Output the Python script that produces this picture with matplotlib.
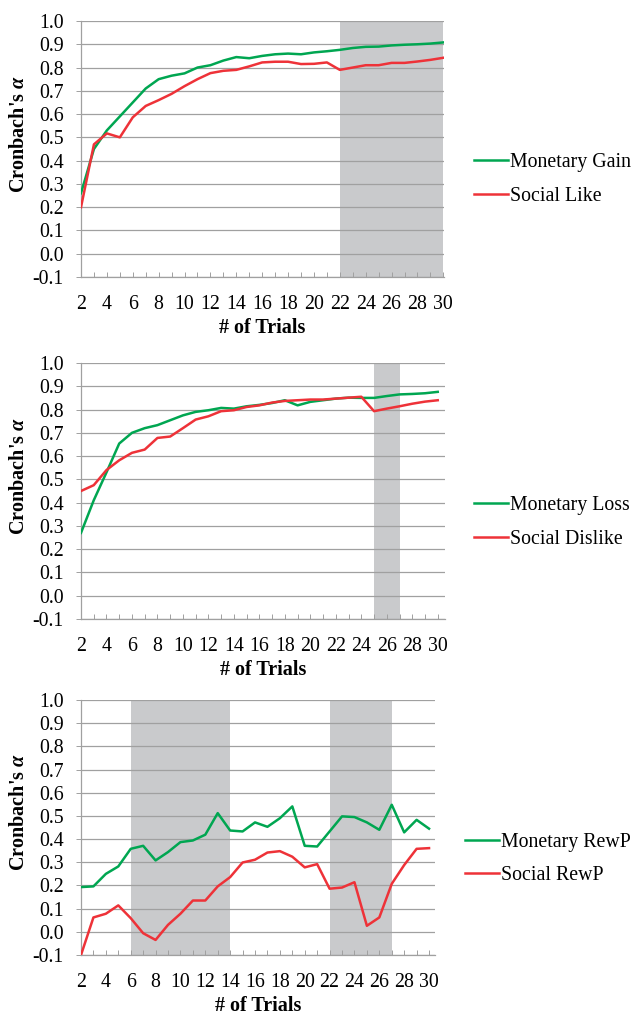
import matplotlib
matplotlib.use("Agg")
import matplotlib.pyplot as plt

plt.rcParams['font.family'] = ['Liberation Serif', 'DejaVu Serif']
plt.rcParams['mathtext.fontset'] = 'custom'
plt.rcParams['mathtext.rm'] = 'Liberation Serif:bold'
plt.rcParams['mathtext.it'] = 'Liberation Serif:italic:bold'
plt.rcParams['mathtext.bf'] = 'Liberation Serif:bold'
plt.rcParams['axes.unicode_minus'] = False

# number of trials on the x axis
trials = list(range(2, 31))

# panel 1: reward (gain / like)
monetary_gain = [0.26, 0.45, 0.53, 0.59, 0.65, 0.71, 0.75, 0.765, 0.775, 0.80,
                 0.81, 0.83, 0.845, 0.84, 0.85, 0.857, 0.86, 0.857, 0.865, 0.87,
                 0.876, 0.884, 0.889, 0.89, 0.895, 0.898, 0.90, 0.903, 0.908]
social_like = [0.20, 0.47, 0.517, 0.50, 0.586, 0.635, 0.66, 0.687, 0.72, 0.75,
               0.776, 0.786, 0.79, 0.805, 0.822, 0.825, 0.825, 0.815, 0.816, 0.822,
               0.79, 0.80, 0.81, 0.81, 0.82, 0.82, 0.826, 0.833, 0.842]

# panel 2: punishment (loss / dislike)
monetary_loss = [0.27, 0.41, 0.53, 0.654, 0.70, 0.72, 0.733, 0.754, 0.775, 0.79,
                 0.797, 0.807, 0.804, 0.814, 0.82, 0.828, 0.84, 0.818, 0.833, 0.84,
                 0.847, 0.851, 0.85, 0.85, 0.858, 0.865, 0.867, 0.87, 0.876]
social_dislike = [0.45, 0.475, 0.54, 0.582, 0.614, 0.628, 0.678, 0.684, 0.72, 0.757,
                  0.771, 0.793, 0.797, 0.811, 0.818, 0.83, 0.837, 0.84, 0.843, 0.843,
                  0.847, 0.851, 0.855, 0.793, 0.804, 0.814, 0.825, 0.834, 0.84]

# panel 3: RewP
monetary_rewp = [0.193, 0.196, 0.25, 0.282, 0.358, 0.371, 0.308, 0.344, 0.387, 0.394,
                 0.419, 0.512, 0.437, 0.433, 0.472, 0.453, 0.49, 0.541, 0.371, 0.368,
                 0.433, 0.498, 0.495, 0.472, 0.44, 0.548, 0.429, 0.483, 0.445]
social_rewp = [-0.10, 0.062, 0.078, 0.114, 0.059, -0.006, -0.035, 0.03, 0.078, 0.135,
               0.135, 0.196, 0.236, 0.299, 0.311, 0.342, 0.348, 0.324, 0.278, 0.292,
               0.186, 0.191, 0.214, 0.026, 0.062, 0.207, 0.288, 0.358, 0.361]

# shaded trial ranges
shade_gain = [(22, 30)]
shade_loss = [(25, 27)]
shade_rewp = [(6, 14), (22, 27)]

yticks = [-0.1, 0.0, 0.1, 0.2, 0.3, 0.4, 0.5, 0.6, 0.7, 0.8, 0.9, 1.0]
ytick_labels = ['-0.1', '0.0', '0.1', '0.2', '0.3', '0.4', '0.5', '0.6', '0.7', '0.8', '0.9', '1.0']

GREEN = '#00a651'
RED = '#ee3238'
GRID = '#a0a0a0'
SHADE = '#c9cacc'

W, H = 634, 1016


def panel(fig, left, top, right, bottom, xmax, green, red, labels, shades, leg_x, leg_y):
    ax = fig.add_axes([left / W, 1 - bottom / H, (right - left) / W, (bottom - top) / H])
    for a, b in shades:
        ax.axvspan(a, b, color=SHADE, lw=0, zorder=0)
    ax.plot(trials, green, color=GREEN, lw=1.8, label=labels[0], zorder=3)
    ax.plot(trials, red, color=RED, lw=1.8, label=labels[1], zorder=3)
    ax.set_xlim(2, xmax)
    ax.set_ylim(-0.1, 1.0)
    ax.set_axisbelow(True)
    ax.yaxis.grid(True, color=GRID, lw=0.9)
    ax.set_yticks(yticks)
    ax.set_yticklabels(ytick_labels)
    ax.set_xticks(trials[::2])
    ax.set_xticks(trials[1::2], minor=True)
    ax.tick_params(axis='x', which='both', direction='in', length=3.6, width=0.7,
                   color=GRID, labelsize=14.3, pad=13)
    ax.tick_params(axis='y', direction='out', length=3.6, width=0.7,
                   color=GRID, labelsize=14.3, pad=9)
    for s in ['top', 'right']:
        ax.spines[s].set_visible(False)
    for s in ['left', 'bottom']:
        ax.spines[s].set_color(GRID)
        ax.spines[s].set_linewidth(0.9)
    ax.set_xlabel("# of Trials", fontsize=14.5, fontweight='bold', va='center')
    ax.xaxis.set_label_coords(0.5, -0.2)
    ax.set_ylabel(r"Cronbach's $\alpha$", fontsize=14.5, fontweight='bold', va='center')
    ax.yaxis.set_label_coords((19 - left) / (right - left), 0.56)
    ax.legend(loc='center left', frameon=False, fontsize=14.3,
              bbox_to_anchor=((leg_x - left) / (right - left), (bottom - leg_y) / (bottom - top)),
              borderaxespad=0, borderpad=0, handlelength=1.7, handletextpad=0.12,
              labelspacing=0.72)
    return ax


fig = plt.figure(figsize=(W / 100, H / 100), dpi=100)
panel(fig, 81, 21, 444, 277, 30.05, monetary_gain, social_like,
      ['Monetary Gain', 'Social Like'], shade_gain, 474, 179.5)
panel(fig, 81, 363, 445, 619, 30.57, monetary_loss, social_dislike,
      ['Monetary Loss', 'Social Dislike'], shade_loss, 474, 522.5)
panel(fig, 81, 700, 435, 955, 30.48, monetary_rewp, social_rewp,
      ['Monetary RewP', 'Social RewP'], shade_rewp, 465, 859)
fig.savefig("out.png", dpi=100)
plt.close()
